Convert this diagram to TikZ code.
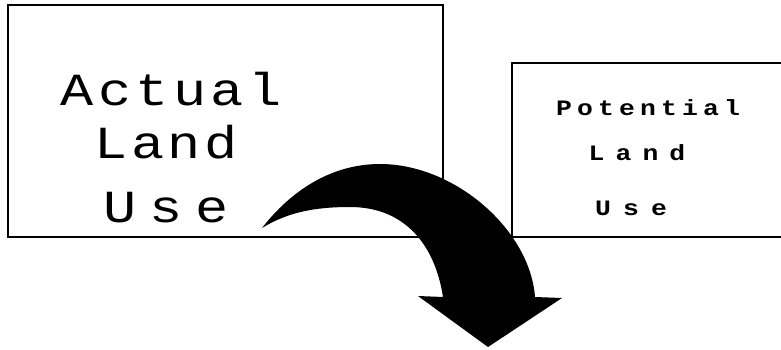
\documentclass[tikz,border=0pt]{standalone}
\usepackage{fontspec}
\usepackage{tikz}
\usetikzlibrary{calc}
\newfontfamily\plotfont{Liberation Mono}
\newfontfamily\plotbold{Liberation Mono Bold}
% wide letters, as the plotter drew them
\newcommand{\widetext}[2]{\scalebox{1.2}[1]{\addfontfeature{LetterSpace=#1}#2}}

\begin{document}
\begin{tikzpicture}[x=1pt, y=-1pt, line width=2.6pt,
    bigtext/.style={font=\plotfont\fontsize{46}{46}\selectfont, inner sep=0pt, anchor=base},
    smalltext/.style={font=\plotbold\fontsize{22}{22}\selectfont, inner sep=0pt, anchor=base}]
    \useasboundingbox (0,0) rectangle (781,349);
    % box of the actual land use
    \coordinate(P1)at(8,5);
    \coordinate(P2)at(443,5);
    \coordinate(P3)at(443,237);
    \coordinate(P4)at(8,237);
    % box of the potential land use (open to the right)
    \coordinate(Q1)at(785,63);
    \coordinate(Q2)at(512,63);
    \coordinate(Q3)at(512,237);
    \coordinate(Q4)at(785,237);

    \path[draw, line join=miter](P1)to(P2)to(P3)to(P4)to cycle;
    \path[draw, line join=miter](Q1)to(Q2)to(Q3)to(Q4);

    \node[bigtext](act)at(171,105){\widetext{8}{Actual}};
    \node[bigtext](land)at(166,158){\widetext{6}{Land}};
    \node[bigtext](use)at(166,222){\widetext{24}{Use}};

    \node[smalltext](pot)at(648,115){\widetext{19.5}{Potential}};
    \node[smalltext](pland)at(637,160){\widetext{42}{Land}};
    \node[smalltext](puse)at(631,215){\widetext{46}{Use}};

    % the curved arrow
    \coordinate(T)at(262,228); % tail
    \coordinate(H)at(380,164); % top of the bend
    \coordinate(R)at(535,297); % shaft, right
    \coordinate(L)at(443,297); % shaft, left
    \coordinate(I)at(350,207); % inner bend
    \path[fill=black, line width=0pt](T)
        .. controls (290,192) and (330,164) .. (H)
        .. controls (455,164) and (530,230) .. (R)
        to (562,298) to (488,347) to (418,296) to (L)
        .. controls (435,245) and (405,207) .. (I)
        .. controls (310,207) and (285,214) .. (T);
\end{tikzpicture}
\end{document}
